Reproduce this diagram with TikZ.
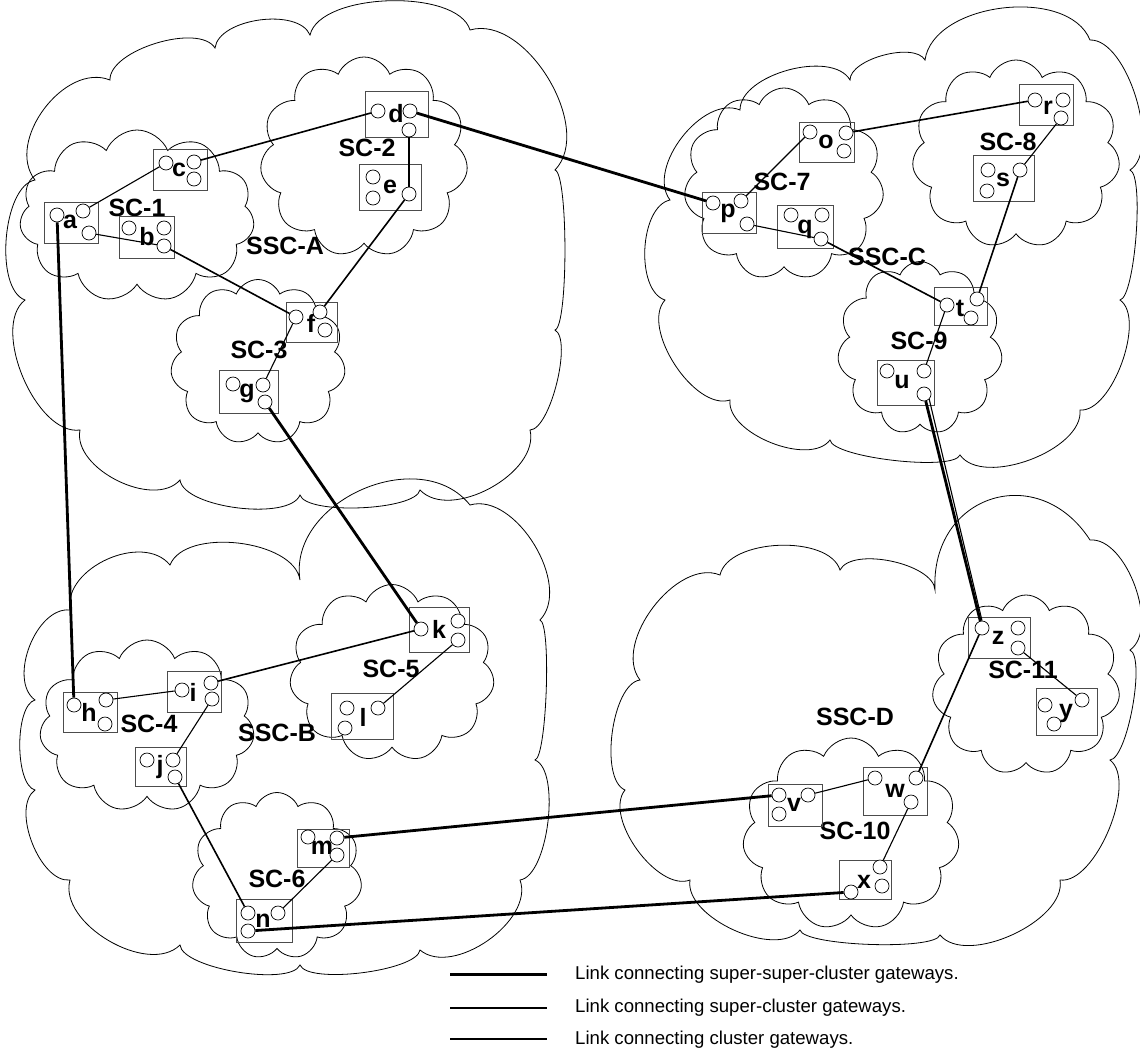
\documentclass[tikz,border=0pt]{standalone}
\usepackage{fontspec}
\setmainfont{Liberation Sans}
\usetikzlibrary{shapes.symbols}
\begin{document}
\begin{tikzpicture}[x=1pt,y=-1pt,
  cloudln/.style={draw=black,line width=0.8pt},
  cl/.style={cloudln,cloud,cloud ignores aspect,inner sep=0pt},
  sccl/.style={cl,cloud puffs=11,cloud puff arc=135},
  bx/.style={draw=black!70,line width=1pt,rectangle,inner sep=0pt},
  gw/.style={draw=black,line width=0.7pt,circle,minimum size=14pt,inner sep=0pt,fill=white},
  lt/.style={font=\fontsize{25}{27}\selectfont\bfseries,inner sep=0pt},
  cln/.style={line width=1.1pt},
  scln/.style={line width=1.6pt},
  sscln/.style={line width=2.8pt},
  leg/.style={font=\fontsize{18.6}{21}\selectfont,anchor=west,inner sep=0pt}]
\useasboundingbox (0,0) rectangle (1140,1055);
% super-super clusters (hand-made outlines)
\draw[cloudln] (35,180) foreach \x/\y/\l in {110/80/1.0, 215/48/0.7, 310/35/0.8, 470/30/0.7, 555/170/0.9, 555/330/0.22, 530/430/0.5, 420/490/0.9, 300/495/0.45, 180/480/0.6, 80/430/0.9, 25/300/0.8, 35/180/0.7}
  { to[out=75,in=105,relative,looseness=\l] (\x,\y) } -- cycle;
\draw[cloudln] (35,700) foreach \x/\y/\l in {70/610/0.9, 170/565/1.0, 300/580/0.8, 470/505/1.1, 540/620/0.9, 535/760/0.22, 520/880/0.6, 420/950/0.9, 300/965/0.45, 180/945/0.5, 70/880/0.9, 35/790/0.8, 35/700/0.6}
  { to[out=75,in=105,relative,looseness=\l] (\x,\y) } -- cycle;
\draw[cloudln] (665,300) foreach \x/\y/\l in {670/200/0.8, 740/110/0.9, 850/80/0.8, 925/60/0.7, 1090/40/0.9, 1130/170/0.7, 1120/300/0.3, 1080/410/0.7, 960/455/0.8, 830/440/0.35, 730/400/0.8, 665/300/0.8}
  { to[out=75,in=105,relative,looseness=\l] (\x,\y) } -- cycle;
\draw[cloudln] (625,790) foreach \x/\y/\l in {640/680/0.65, 720/575/0.9, 840/570/0.8, 935/590/0.7, 1090/540/1.5, 1130/650/0.8, 1110/760/0.4, 1060/880/0.7, 940/935/0.8, 800/930/0.3, 690/880/0.8, 625/790/0.8}
  { to[out=75,in=105,relative,looseness=\l] (\x,\y) } -- cycle;
% super clusters
\node[sccl,minimum width=235pt,minimum height=172pt] (SC1) at (137,216) {};
\node[sccl,minimum width=208pt,minimum height=200pt] (SC2) at (364,157) {};
\node[sccl,minimum width=175pt,minimum height=165pt] (SC3) at (258,362) {};
\node[sccl,minimum width=215pt,minimum height=172pt] (SC4) at (147,726) {};
\node[sccl,minimum width=205pt,minimum height=177pt] (SC5) at (392,673) {};
\node[sccl,minimum width=170pt,minimum height=167pt] (SC6) at (277,876) {};
\node[sccl,minimum width=200pt,minimum height=192pt] (SC7) at (784,184) {};
\node[sccl,minimum width=208pt,minimum height=188pt] (SC8) at (1016,154) {};
\node[sccl,minimum width=165pt,minimum height=173pt] (SC9) at (920,348) {};
\node[sccl,minimum width=217pt,minimum height=192pt] (SC10) at (851,834) {};
\node[sccl,minimum width=188pt,minimum height=180pt] (SC11) at (1026,685) {};
% labels
\node[lt] (lSC1) at (137,208) {SC-1};
\node[lt] (lSC2) at (367,148) {SC-2};
\node[lt] (lSC3) at (259,350) {SC-3};
\node[lt] (lSSCA) at (285,246) {SSC-A};
\node[lt] (lSC4) at (149,724) {SC-4};
\node[lt] (lSSCB) at (277,733) {SSC-B};
\node[lt] (lSC5) at (391,669) {SC-5};
\node[lt] (lSC6) at (277,879) {SC-6};
\node[lt] (lSC7) at (782,182) {SC-7};
\node[lt] (lSC8) at (1008,142) {SC-8};
\node[lt] (lSSCC) at (887,257) {SSC-C};
\node[lt] (lSC9) at (919,341) {SC-9};
\node[lt] (lSSCD) at (855,717) {SSC-D};
\node[lt] (lSC10) at (855,831) {SC-10};
\node[lt] (lSC11) at (1023,670) {SC-11};
% gateway boxes
\foreach \n/\xa/\ya/\xb/\yb/\lx/\ly/\pa/\pb/\pc in {
 a/44/202/98/243/70/222/{(57,215)}/{(83,211)}/{(89,233)},
 b/119/216/174/258/147/237/{(129,228)}/{(164,228)}/{(164,246)},
 c/153/149/207/190/179/170/{(166,163)}/{(194,162)}/{(194,179)},
 d/365/91/428/137/396/114/{(378,111)}/{(410,111)}/{(409,130)},
 e/359/164/421/210/390/187/{(373,177)}/{(373,198)}/{(409,194)},
 f/286/302/337/342/311/323/{(296,317)}/{(320,312)}/{(325,330)},
 g/219/370/278/413/247/393/{(233,384)}/{(263,385)}/{(265,402)},
 h/63/692/117/732/89/712/{(74,705)}/{(106,700)}/{(105,724)},
 i/167/671/221/712/193/692/{(182,690)}/{(211,683)}/{(212,699)},
 j/135/747/186/786/160/767/{(147,760)}/{(173,760)}/{(175,777)},
 k/409/607/469/652/439/629/{(421,629)}/{(458,621)}/{(458,640)},
 l/331/693/393/739/363/717/{(347,708)}/{(345,728)}/{(378,708)},
 m/297/829/349/867/322/848/{(308,837)}/{(337,838)}/{(337,855)},
 n/236/899/292/942/263/921/{(248,913)}/{(278,913)}/{(248,931)},
 o/799/122/854/162/826/142/{(810,132)}/{(846,133)}/{(844,151)},
 p/702/192/756/233/728/213/{(713,203)}/{(741,201)}/{(747,224)},
 q/777/205/833/248/805/229/{(791,215)}/{(822,215)}/{(821,239)},
 r/1019/84/1073/125/1048/108/{(1035,100)}/{(1063,100)}/{(1061,118)},
 s/973/155/1034/201/1003/180/{(988,170)}/{(987,191)}/{(1020,170)},
 t/934/287/987/325/960/308/{(947,305)}/{(977,299)}/{(971,318)},
 u/877/360/934/405/902/382/{(887,371)}/{(924,371)}/{(924,394)},
 v/768/784/822/826/794/805/{(779,795)}/{(808,795)}/{(779,814)},
 w/863/767/927/815/895/791/{(875,778)}/{(916,778)}/{(911,802)},
 x/839/860/891/899/864/882/{(880,867)}/{(882,886)}/{(851,892)},
 y/1036/688/1097/735/1066/713/{(1045,705)}/{(1054,724)}/{(1082,700)},
 z/968/617/1030/658/998/638/{(982,628)}/{(1018,628)}/{(1018,648)}}
{
 \pgfmathsetmacro\bw{\xb-\xa}\pgfmathsetmacro\bh{\yb-\ya}
 \node[bx,minimum width=\bw pt,minimum height=\bh pt] (\n B) at ({(\xa+\xb)/2},{(\ya+\yb)/2}) {};
 \node[lt] (\n L) at (\lx,\ly) {\n};
 \node[gw] (\n1) at \pa {};
 \node[gw] (\n2) at \pb {};
 \node[gw] (\n3) at \pc {};
}
% cluster links
\foreach \s/\t in {a2/c1,a3/b3,d3/e3,f1/g2,h2/i1,i3/j2,k3/l3,m3/n2,p2/o1,p3/q3,r3/s3,t1/u2,v2/w1,w3/x1,z3/y3}
  \draw[cln] (\s) -- (\t);
% super-cluster links
\foreach \s/\t in {c2/d1,e3/f2,b3/f1,i2/k1,j3/n1,o2/r1,s3/t2,q3/t1,w2/z1}
  \draw[scln] (\s) -- (\t);
% super-super-cluster links
\foreach \s/\t in {d2/p1,a1/h1,g3/k1,u3/z1,m2/v1,n3/x3}
  \draw[sscln] (\s) -- (\t);
\draw[cln] (u3.south east) -- (z1.north);
% legend
\coordinate (L1a) at (450,974); \coordinate (L1b) at (547,974);
\coordinate (L2a) at (450,1008); \coordinate (L2b) at (547,1008);
\coordinate (L3a) at (450,1039); \coordinate (L3b) at (547,1039);
\draw[line width=3pt] (L1a) -- (L1b);
\draw[line width=2pt] (L2a) -- (L2b);
\draw[line width=1.6pt] (L3a) -- (L3b);
\node[leg] (T1) at (575,975) {Link connecting super-super-cluster gateways.};
\node[leg] (T2) at (575,1008) {Link connecting super-cluster gateways.};
\node[leg] (T3) at (575,1040) {Link connecting cluster gateways.};
\end{tikzpicture}
\end{document}
